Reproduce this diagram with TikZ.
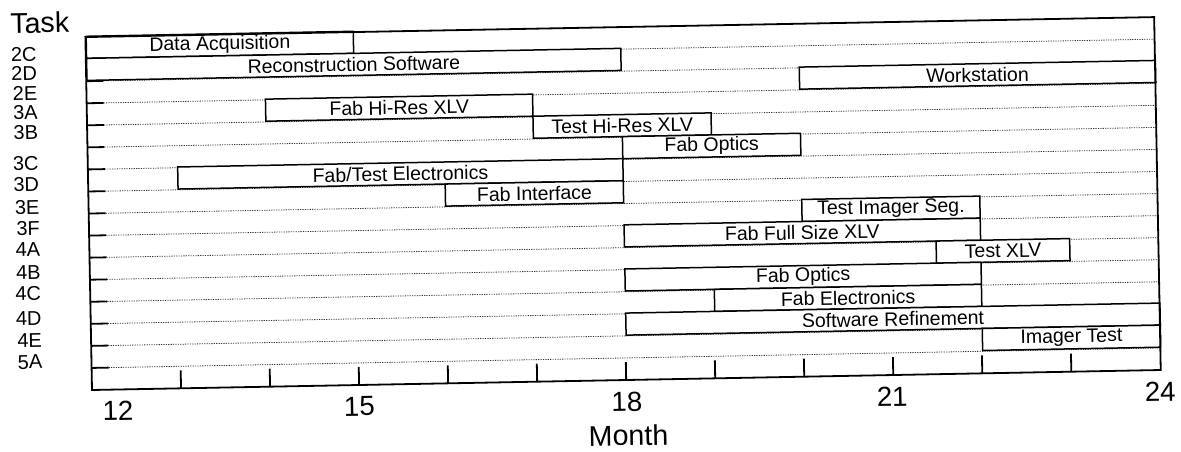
\documentclass[tikz,border=0pt]{standalone}
\usepackage{fontspec}
\setmainfont{Liberation Sans}
\tikzset{
  frameline/.style={line width=1.8pt, line cap=rect},
  gridline/.style={line width=0.8pt, dash pattern=on 1.2pt off 1.2pt, black!80},
  axtick/.style={line width=1.8pt},
  barbox/.style={draw, fill=white, line width=1.5pt, inner sep=0pt, anchor=south west,
                 font=\fontsize{19.5}{22}\selectfont},
  rowlab/.style={anchor=east, inner sep=0pt, font=\fontsize{20}{22}\selectfont},
  axlab/.style={inner sep=0pt, font=\fontsize{27.6}{30}\selectfont},
  titlelab/.style={inner sep=0pt, font=\fontsize{28.6}{31}\selectfont}
}
\newcommand{\ganttbar}[5]{%
  \node[barbox, minimum width={(#3-#2)*89.05pt}, minimum height=22.06pt]
    (#1) at ({(#2-12)*89.05}, {353-#4*22.0625}) {#5};}
\begin{document}
\begin{tikzpicture}[x=1pt,y=1pt]
\useasboundingbox (0,0) rectangle (1181,452);
\begin{scope}[shift={(92,62)}, rotate=1.072, transform shape]
  % grid lines and left ticks
  \foreach \k in {1,...,15} {
    \coordinate (gl\k) at (0,{353-\k*22.0625});
    \coordinate (gm\k) at (17,{353-\k*22.0625});
    \coordinate (gr\k) at (1069,{353-\k*22.0625});
    \draw[gridline] (gm\k) -- (gr\k);
    \draw[axtick] (gl\k) -- (gm\k);
  }
  % bars
  \ganttbar{b1}{12}{15}{1}{Data Acquisition}
  \ganttbar{b2}{12}{18}{2}{Reconstruction Software}
  \ganttbar{b3}{20}{24}{3}{Workstation}
  \ganttbar{b4}{14}{17}{4}{Fab Hi-Res XLV}
  \ganttbar{b5}{17}{19}{5}{Test Hi-Res XLV}
  \ganttbar{b6}{18}{20}{6}{Fab Optics}
  \ganttbar{b7}{13}{18}{7}{Fab/Test Electronics}
  \ganttbar{b8}{16}{18}{8}{Fab Interface}
  \ganttbar{b9}{20}{22}{9}{Test Imager Seg.}
  \ganttbar{b10}{18}{22}{10}{Fab Full Size XLV}
  \ganttbar{b11}{21.5}{23}{11}{Test XLV}
  \ganttbar{b12}{18}{22}{12}{Fab Optics}
  \ganttbar{b13}{19}{22}{13}{Fab Electronics}
  \ganttbar{b14}{18}{24}{14}{Software Refinement}
  \ganttbar{b15}{22}{24}{15}{Imager Test}
  % frame
  \coordinate (fbl) at (0,0);
  \coordinate (ftr) at (1069,353);
  \draw[frameline] (fbl) rectangle (ftr);
  % month ticks
  \foreach \m in {13,...,23} {
    \coordinate (tb\m) at ({(\m-12)*89.05},0);
    \coordinate (tt\m) at ({(\m-12)*89.05},18);
    \draw[axtick] (tb\m) -- (tt\m);
  }
  % axis labels
  \node[axlab] (m12) at (25.6,-21.5) {12};
  \node[axlab] (m15) at (267,-21.5) {15};
  \node[axlab] (m18) at (534.6,-21.5) {18};
  \node[axlab] (m21) at (800,-21.5) {21};
  \node[axlab] (m24) at (1068,-21.5) {24};
  \node[titlelab] (month) at (535.6,-55.5) {Month};
  \node[titlelab, anchor=west] (task) at (-75,368.4) {Task};
  % row labels
  \node[rowlab] (r1) at (-49,337) {2C};
  \node[rowlab] (r2) at (-49,318) {2D};
  \node[rowlab] (r3) at (-49,298) {2E};
  \node[rowlab] (r4) at (-49,278.5) {3A};
  \node[rowlab] (r5) at (-49,258.5) {3B};
  \node[rowlab] (r6) at (-49,228) {3C};
  \node[rowlab] (r7) at (-49,207) {3D};
  \node[rowlab] (r8) at (-49,184) {3E};
  \node[rowlab] (r9) at (-49,163) {3F};
  \node[rowlab] (r10) at (-49,142) {4A};
  \node[rowlab] (r11) at (-49,119) {4B};
  \node[rowlab] (r12) at (-49,98) {4C};
  \node[rowlab] (r13) at (-49,73) {4D};
  \node[rowlab] (r14) at (-49,51) {4E};
  \node[rowlab] (r15) at (-49,29) {5A};
\end{scope}
\end{tikzpicture}
\end{document}
